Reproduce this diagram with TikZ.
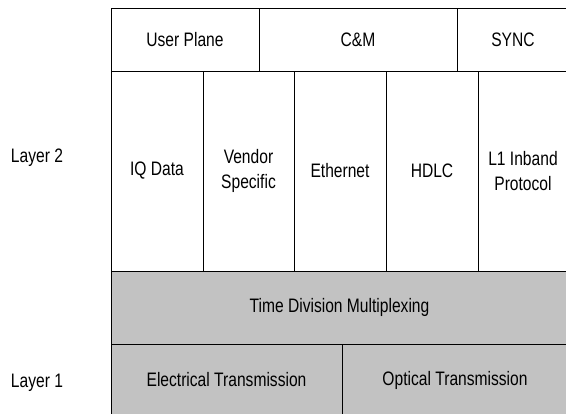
\documentclass[tikz,border=0pt]{standalone}
\usepackage{fontspec}
\setmainfont[FakeStretch=0.8]{Liberation Sans}
\begin{document}
\begin{tikzpicture}[x=1pt,y=-1pt,
  cell/.style={draw=black, line width=0.8pt, fill=white, inner sep=0pt, align=center,
    font=\fontsize{19.5}{24.5}\selectfont},
  shaded/.style={cell, fill=black!24},
  lbl/.style={inner sep=0pt, font=\fontsize{19.5}{23}\selectfont}]
\useasboundingbox (0,0) rectangle (566,414);
\fill[white] (0,0) rectangle (566,414);
% top row
\node[cell, minimum width=148pt, minimum height=63pt] (up) at (185,39.5) {User Plane};
\node[cell, minimum width=198pt, minimum height=63pt] (cm) at (358,39.5) {C\&M};
\node[cell, minimum width=112pt, minimum height=63pt] (sync) at (513,39.5) {SYNC};
% layer 2 columns
\node[cell, minimum width=92pt, minimum height=200pt] (iq) at (157,171) {\raisebox{-1pt}{IQ Data}};
\node[cell, minimum width=91pt, minimum height=200pt] (vs) at (248.5,171) {Vendor\\Specific};
\node[cell, minimum width=92pt, minimum height=200pt] (eth) at (340,171) {\raisebox{-1pt}{Ethernet}};
\node[cell, minimum width=92pt, minimum height=200pt] (hdlc) at (432,171) {\raisebox{-1pt}{HDLC}};
\node[cell, minimum width=90pt, minimum height=200pt] (l1) at (523,171) {L1 Inband\\Protocol};
% TDM
\node[shaded, minimum width=457pt, minimum height=73pt] (tdm) at (339.5,307.5) {\raisebox{-3pt}{Time Division Multiplexing}};
% layer 1
\node[shaded, minimum width=231pt, minimum height=72pt] (el) at (226.5,380) {\raisebox{-2pt}{Electrical Transmission}};
\node[shaded, minimum width=226pt, minimum height=72pt] (op) at (455,380) {\raisebox{-2pt}{Optical Transmission}};
% labels
\node[lbl] (l2) at (37,158) {Layer 2};
\node[lbl] (l1lbl) at (37,383) {Layer 1};
\end{tikzpicture}
\end{document}
